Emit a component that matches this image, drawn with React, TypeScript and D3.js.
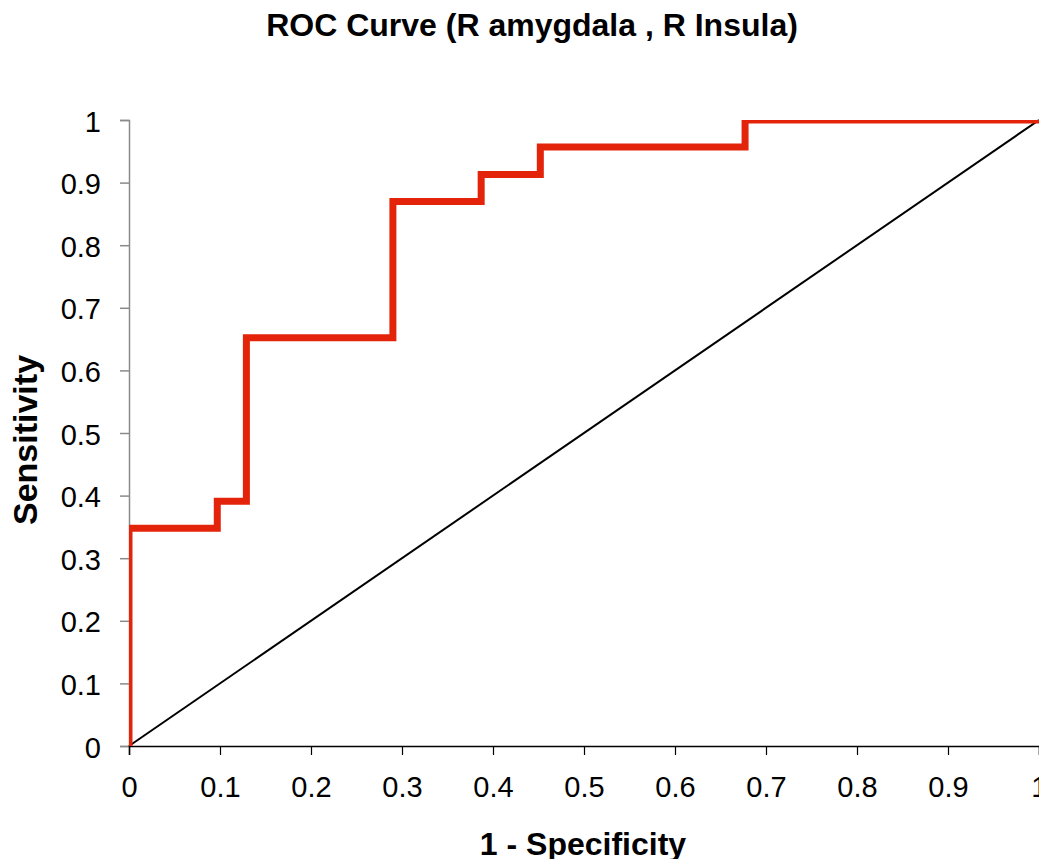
import { useRef, useEffect } from "react";
import * as d3 from "d3";

// ROC points
const fpr = [0, 0, 0.097, 0.097, 0.129, 0.129, 0.29, 0.29, 0.387, 0.387, 0.452, 0.452, 0.677, 0.677, 1];
const tpr = [0, 0.348, 0.348, 0.391, 0.391, 0.652, 0.652, 0.87, 0.87, 0.913, 0.913, 0.957, 0.957, 1, 1];
const refLine = [0, 1];
const ticks = [0, 0.1, 0.2, 0.3, 0.4, 0.5, 0.6, 0.7, 0.8, 0.9, 1];

const W = 1047;
const H = 867;
const left = 129;
const right = 1039;
const top = 120;
const bottom = 746;
const font = "'Liberation Sans', Arial, sans-serif";

export default function App() {
  const svg = useRef<SVGSVGElement>(null);

  useEffect(() => {
    const s = d3.select(svg.current);
    s.selectAll("*").remove();
    const x = d3.scaleLinear([0, 1], [left, right]);
    const y = d3.scaleLinear([0, 1], [bottom, top]);
    const fmt = (d: any) => (d === 0 ? "0" : d === 1 ? "1" : d3.format(".1f")(d));

    s.append("defs")
      .append("clipPath")
      .attr("id", "plot")
      .append("rect")
      .attr("x", left)
      .attr("y", top)
      .attr("width", right - left)
      .attr("height", bottom - top);

    // y axis
    const ya = s.append("g")
      .attr("transform", `translate(${left},0)`)
      .call(d3.axisLeft(y).tickValues(ticks).tickFormat(fmt).tickSizeOuter(0).tickSize(9).tickPadding(19));
    ya.select(".domain").attr("stroke", "#8a8a8a").attr("stroke-width", 1.5);
    ya.selectAll(".tick line").attr("stroke", "#8a8a8a").attr("stroke-width", 1.5);
    ya.selectAll("text").attr("font-family", font).attr("font-size", 29).attr("fill", "#000").attr("dy", "0.38em");

    // x axis
    const xa = s.append("g")
      .attr("transform", `translate(0,${bottom})`)
      .call(d3.axisBottom(x).tickValues(ticks).tickFormat(fmt).tickSizeOuter(0).tickSize(9).tickPadding(21));
    xa.select(".domain").attr("stroke", "#000").attr("stroke-width", 1.5);
    xa.selectAll(".tick line").attr("stroke", "#000").attr("stroke-width", 1.2);
    xa.selectAll("text").attr("font-family", font).attr("font-size", 29).attr("fill", "#000");
    // last label is pushed in to fit the page edge
    xa.selectAll<SVGTextElement, number>("text")
      .filter((d) => d === 1)
      .attr("text-anchor", "end")
      .attr("x", W - right);

    // diagonal
    s.append("path")
      .attr("d", d3.line<number>().x((d) => x(d)).y((d) => y(d))(refLine))
      .attr("stroke", "#000")
      .attr("stroke-width", 2)
      .attr("fill", "none");

    // ROC curve
    s.append("path")
      .attr("clip-path", "url(#plot)")
      .attr("d", d3.line<number>().x((d) => x(d)).y((d, i) => y(tpr[i]))(fpr))
      .attr("stroke", "#e3240b")
      .attr("stroke-width", 7)
      .attr("stroke-linejoin", "miter")
      .attr("fill", "none");

    s.append("text")
      .attr("x", 532)
      .attr("y", 36)
      .attr("text-anchor", "middle")
      .attr("font-family", font)
      .attr("font-weight", "bold")
      .attr("font-size", 32)
      .text("ROC Curve (R amygdala , R Insula)");

    s.append("text")
      .attr("x", 583)
      .attr("y", 855)
      .attr("text-anchor", "middle")
      .attr("font-family", font)
      .attr("font-weight", "bold")
      .attr("font-size", 32)
      .text("1 - Specificity");

    s.append("text")
      .attr("transform", "translate(37,440) rotate(-90)")
      .attr("text-anchor", "middle")
      .attr("font-family", font)
      .attr("font-weight", "bold")
      .attr("font-size", 34)
      .text("Sensitivity");
  });

  return (
    <div style={{ margin: -8 }}>
      <svg ref={svg} width={W} height={H} style={{ display: "block", background: "#fff" }} />
    </div>
  );
}
